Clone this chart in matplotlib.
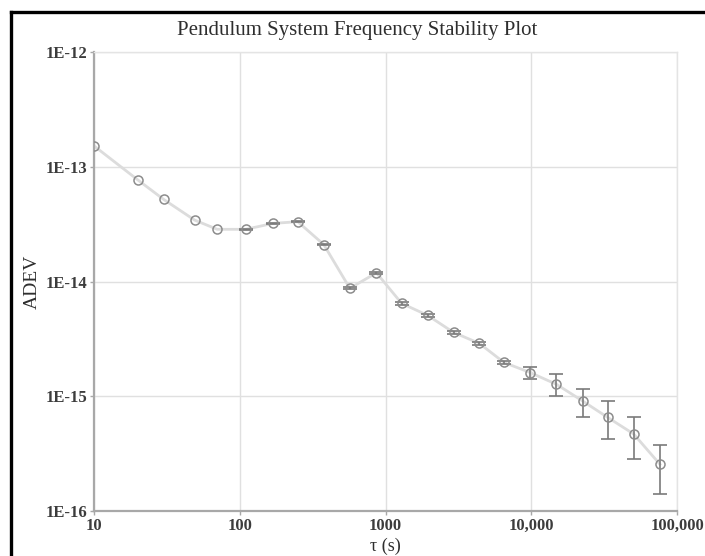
import matplotlib
matplotlib.use("Agg")
import matplotlib.pyplot as plt
from matplotlib.lines import Line2D
import numpy as np

# Averaging times (s)
tau = [10, 20, 30, 49, 70, 110, 169, 250, 377, 569, 867, 1290, 1945,
       2930, 4400, 6500, 9820, 14900, 22500, 33400, 50400, 76400]
# Allan deviation
adev = [1.52e-13, 7.67e-14, 5.2e-14, 3.43e-14, 2.85e-14, 2.85e-14, 3.21e-14,
        3.32e-14, 2.1e-14, 8.73e-15, 1.19e-14, 6.45e-15, 5.07e-15, 3.6e-15,
        2.89e-15, 1.97e-15, 1.61e-15, 1.27e-15, 9.1e-16, 6.55e-16, 4.69e-16,
        2.55e-16]
# Confidence interval bounds
adev_lo = [1.52e-13, 7.67e-14, 5.2e-14, 3.43e-14, 2.85e-14, 2.82e-14, 3.17e-14,
           3.27e-14, 2.06e-14, 8.55e-15, 1.16e-14, 6.3e-15, 4.95e-15, 3.5e-15,
           2.8e-15, 1.91e-15, 1.41e-15, 1.00e-15, 6.56e-16, 4.22e-16, 2.82e-16,
           1.41e-16]
adev_hi = [1.52e-13, 7.67e-14, 5.2e-14, 3.43e-14, 2.85e-14, 2.88e-14, 3.25e-14,
           3.37e-14, 2.14e-14, 8.9e-15, 1.22e-14, 6.6e-15, 5.2e-15, 3.7e-15,
           2.98e-15, 2.04e-15, 1.80e-15, 1.55e-15, 1.15e-15, 9.04e-16, 6.59e-16,
           3.74e-16]

x_ticks = [10, 100, 1000, 10000, 100000]
x_tick_labels = ["10", "100", "1000", "10,000", "100,000"]
y_ticks = [1e-16, 1e-15, 1e-14, 1e-13, 1e-12]
y_tick_labels = ["1E-16", "1E-15", "1E-14", "1E-13", "1E-12"]

plt.rcParams['font.family'] = ['Liberation Serif', 'DejaVu Serif']

W, H = 705, 556
fig = plt.figure(figsize=(W / 100, H / 100), dpi=100)
ax = fig.add_axes([94 / W, 1 - 511 / H, (677 - 94) / W, (511 - 52) / H])

t = np.array(tau)
a = np.array(adev)
lo = np.array(adev_lo)
hi = np.array(adev_hi)
has_err = (hi - lo) > 0

# connecting trace
ax.plot(t, a, color='#dcdcdc', lw=2.0, zorder=2)
# error bars only where an interval was computed
ax.errorbar(t[has_err], a[has_err],
            yerr=[a[has_err] - lo[has_err], hi[has_err] - a[has_err]],
            fmt='none', ecolor='#7a7a7a', elinewidth=1.2,
            capsize=4.8, capthick=1.2, zorder=3)
# open markers
ax.plot(t, a, linestyle='none', marker='o', ms=6.5, mfc='none',
        mec='#8c8c8c', mew=1.1, zorder=4)

ax.set_xscale('log')
ax.set_yscale('log')
ax.set_xlim(10, 100000)
ax.set_ylim(1e-16, 1e-12)
ax.set_xticks(x_ticks)
ax.set_xticklabels(x_tick_labels)
ax.set_yticks(y_ticks)
ax.set_yticklabels(y_tick_labels)
ax.minorticks_off()
ax.grid(True, which='major', color='#e0e0e0', lw=1.0)
ax.set_axisbelow(True)

for s in ('left', 'bottom'):
    ax.spines[s].set_color('#a8a8a8')
    ax.spines[s].set_linewidth(1.6)
for s in ('top', 'right'):
    ax.spines[s].set_color('#e4e4e4')
    ax.spines[s].set_linewidth(1.0)

ax.tick_params(axis='both', which='major', length=3, width=1, color='#a8a8a8',
               labelsize=12, labelcolor='#3c3c3c', pad=2)
for lab in ax.get_yticklabels() + ax.get_xticklabels():
    lab.set_fontweight('bold')

ax.set_title('Pendulum System Frequency Stability Plot', fontsize=15,
             color='#2e2e2e', pad=12, x=0.451)
ax.set_xlabel('τ (s)', fontsize=13, color='#2e2e2e', labelpad=3)
ax.set_ylabel('ADEV', fontsize=14, color='#2e2e2e', labelpad=3)

# black outer frame (top and left edges)
fig.add_artist(Line2D([10.5 / W, 1.0], [1 - 12 / H, 1 - 12 / H],
                      transform=fig.transFigure, color='black', lw=2.4))
fig.add_artist(Line2D([10.5 / W, 10.5 / W], [0.0, 1 - 12 / H],
                      transform=fig.transFigure, color='black', lw=2.4))

fig.savefig('out.png', dpi=100, facecolor='white')
